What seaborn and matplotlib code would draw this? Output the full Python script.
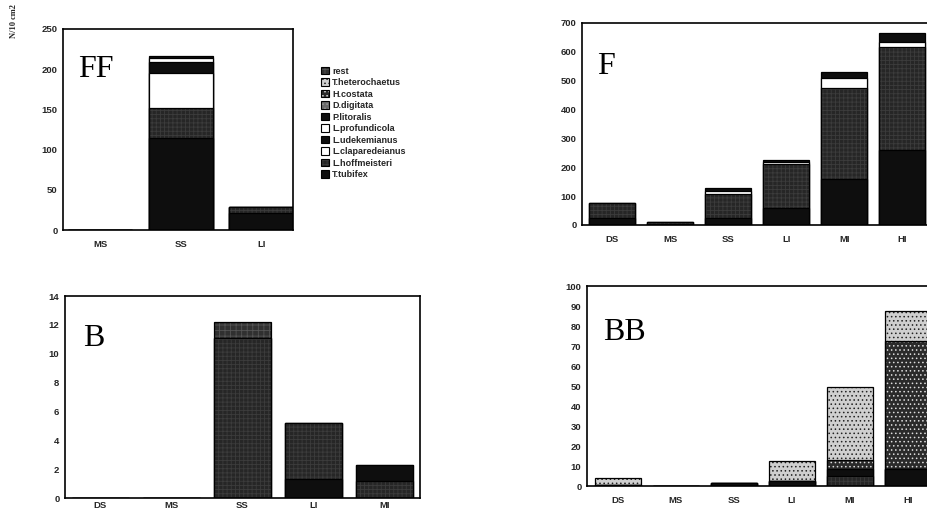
import numpy as np
import matplotlib
matplotlib.use("Agg")
import matplotlib.pyplot as plt
import matplotlib.colors as mcolors
from matplotlib.patches import Patch
import seaborn as sns

# ---------------- data ----------------
species = ["T.tubifex", "L.hoffmeisteri", "L.claparedeianus", "L.udekemianus",
           "L.profundicola", "P.litoralis", "D.digitata", "H.costata",
           "T.heterochaetus", "rest"]

ff_cats = ["MS", "SS", "LI"]
ff_values = [
    [0, 114, 21],   # T.tubifex
    [0, 38, 7],     # L.hoffmeisteri
    [0, 43, 0],     # L.claparedeianus
    [0, 14, 0],     # L.udekemianus
    [0, 5, 0],      # L.profundicola
    [0, 3, 0],      # P.litoralis
    [0, 0, 0],      # D.digitata
    [0, 0, 0],      # H.costata
    [0, 0, 0],      # T.heterochaetus
    [0, 0, 0],      # rest
]

f_cats = ["DS", "MS", "SS", "LI", "MI", "HI"]
f_values = [
    [25, 4, 25, 60, 158, 260],
    [52, 6, 82, 151, 316, 356],
    [0, 0, 12, 8, 34, 19],
    [0, 0, 8, 6, 21, 31],
    [0, 0, 0, 0, 0, 0],
    [0, 0, 0, 0, 0, 0],
    [0, 0, 0, 0, 0, 0],
    [0, 0, 0, 0, 0, 0],
    [0, 0, 0, 0, 0, 0],
    [0, 0, 0, 0, 0, 0],
]

b_cats = ["DS", "MS", "SS", "LI", "MI"]
b_values = [
    [0, 0, 0, 1.3, 0],
    [0, 0, 11.1, 3.9, 1.2],
    [0, 0, 0, 0, 0],
    [0, 0, 0, 0, 1.1],
    [0, 0, 0, 0, 0],
    [0, 0, 0, 0, 0],
    [0, 0, 0, 0, 0],
    [0, 0, 0, 0, 0],
    [0, 0, 0, 0, 0],
    [0, 0, 1.1, 0, 0],
]

bb_cats = ["DS", "MS", "SS", "LI", "MI", "HI"]
bb_values = [
    [0.7, 0, 1.5, 2.5, 0, 8.3],
    [0, 0, 0, 0, 5.0, 0],
    [0, 0, 0, 0, 0, 0],
    [0, 0, 0, 0, 3.3, 0],
    [0, 0, 0, 0, 0, 0],
    [0, 0, 0, 0, 0, 0],
    [0, 0, 0, 0, 0, 0],
    [0, 0, 0, 0, 4.7, 64.4],
    [3.5, 0, 0, 10.2, 36.3, 15.0],
    [0, 0, 0, 0, 0, 0],
]

# ---------------- styles ----------------
face_colors = ["#0e0e0e", "#262626", "#ffffff", "#0e0e0e", "#ffffff",
               "#0e0e0e", "#6a6a6a", "#2a2a2a", "#cfcfcf", "#303030"]
hatches = [None, "++++", None, None, None, None, "....", "....", "....", "+++"]
hatch_colors = ["black", "#3c3c3c", "black", "black", "black",
                "black", "#9a9a9a", "#dcdcdc", "#222222", "#555555"]

sns.set_theme(style="white")
plt.rcParams["font.family"] = ["Liberation Sans", "DejaVu Sans"]
plt.rcParams["hatch.linewidth"] = 0.6


def set_hc(p, c):
    rgba = mcolors.to_rgba(c)
    if hasattr(p, "set_hatchcolor"):
        p.set_hatchcolor(rgba)
    else:
        p._hatch_color = rgba


def draw_panel(ax, cats, values, ymax, ystep, xlim, letter, lx, ly, xpad=7):
    vals = np.array(values, dtype=float)
    cum = np.cumsum(vals, axis=0)
    for i in range(len(species) - 1, -1, -1):
        if not vals[i].any():
            continue
        n0 = len(ax.patches)
        sns.barplot(x=cats, y=cum[i], order=cats, color=face_colors[i],
                    saturation=1, width=0.8, edgecolor="black", linewidth=0.9,
                    hatch=hatches[i], errorbar=None, ax=ax)
        for p in ax.patches[n0:]:
            set_hc(p, hatch_colors[i])
    ax.set_xlim(*xlim)
    ax.set_ylim(0, ymax)
    ax.set_yticks(np.arange(0, ymax + ystep / 2, ystep))
    ax.set_xlabel("")
    ax.set_ylabel("")
    ax.tick_params(axis="both", length=0, labelsize=6.8)
    ax.tick_params(axis="x", pad=xpad)
    ax.tick_params(axis="y", pad=4)
    for t in ax.get_xticklabels() + ax.get_yticklabels():
        t.set_fontweight("bold")
    for s in ax.spines.values():
        s.set_visible(True)
        s.set_color("black")
        s.set_linewidth(1.2)
    ax.text(lx, ly, letter, transform=ax.transAxes, fontsize=23,
            family=["Liberation Serif", "DejaVu Serif"], va="baseline",
            ha="left", color="black")


fig = plt.figure(figsize=(9.28, 5.12), dpi=100)
W, H = 928.0, 512.0


def axes_px(left, top, right, bottom):
    return fig.add_axes([left / W, 1 - bottom / H, (right - left) / W, (bottom - top) / H])


ax_ff = axes_px(63, 29, 293, 230)
ax_f = axes_px(582, 23, 930, 225)
ax_b = axes_px(65, 296, 420, 498)
ax_bb = axes_px(587, 286, 935, 486)

draw_panel(ax_ff, ff_cats, ff_values, 250, 50, (-0.46, 2.39), "FF", 0.065, 0.76)
draw_panel(ax_f, f_cats, f_values, 700, 100, (-0.52, 5.48), "F", 0.043, 0.75)
draw_panel(ax_b, b_cats, b_values, 14, 2, (-0.5, 4.5), "B", 0.05, 0.75, xpad=2)
draw_panel(ax_bb, bb_cats, bb_values, 100, 10, (-0.53, 5.47), "BB", 0.046, 0.73)

# legend
handles = []
for i in range(len(species) - 1, -1, -1):
    p = Patch(facecolor=face_colors[i], edgecolor="black", linewidth=0.8,
              hatch=hatches[i], label=species[i])
    set_hc(p, hatch_colors[i])
    handles.append(p)
leg = fig.legend(handles=handles, loc="upper left",
                 bbox_to_anchor=(316 / W, 1 - 62 / H), frameon=False,
                 fontsize=6.5, handlelength=0.9, handleheight=0.9,
                 handletextpad=0.4, labelspacing=0.28, borderpad=0)
for t in leg.get_texts():
    t.set_fontweight("bold")

fig.text(14 / W, 1 - 4 / H, "N/10 cm2", rotation=90, va="top", ha="center",
         fontsize=6, family=["Liberation Serif", "DejaVu Serif"], fontweight="bold")

fig.savefig("out.png", dpi=100)
